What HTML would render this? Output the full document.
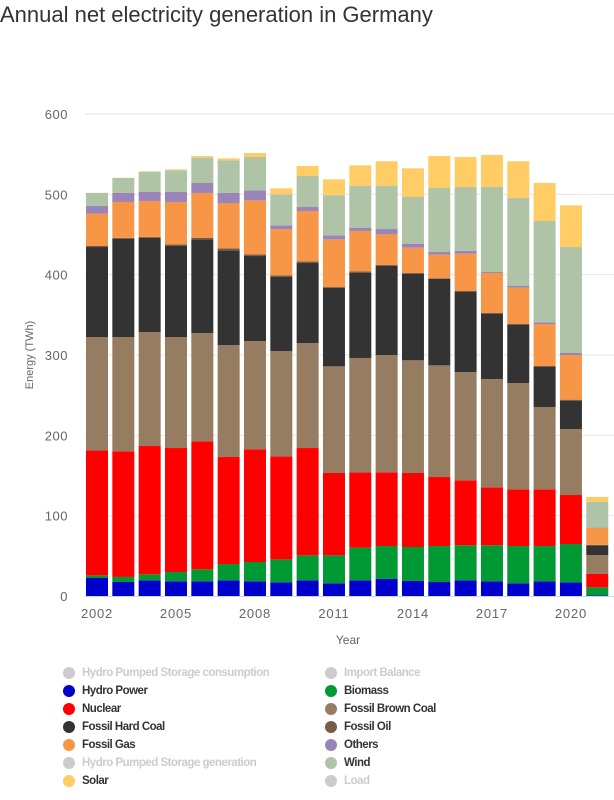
<!DOCTYPE html>
<html><head><meta charset="utf-8">
<style>
body{margin:0;background:#fff;font-family:"Liberation Sans",sans-serif;}
#wrap{position:relative;width:614px;height:800px;overflow:hidden;}
.title{position:absolute;left:0;top:2px;font-size:22px;color:#333;}
.leg{position:absolute;font-size:11.5px;font-weight:bold;color:#333;letter-spacing:-0.5px;line-height:14px;}
.leg span.dot{position:absolute;left:-19px;top:1px;width:12px;height:12px;border-radius:50%;}
.off{color:#ccc;}
</style></head><body>
<div id="wrap">
<div class="title">Annual net electricity generation in Germany</div>
<svg id="chart" width="614" height="660" style="position:absolute;left:0;top:0"></svg>
<div id="legend"></div>
</div>
<script>
const years=[2002,2003,2004,2005,2006,2007,2008,2009,2010,2011,2012,2013,2014,2015,2016,2017,2018,2019,2020,2021];
const hydro=[22.4,17.4,19.5,18.3,18.3,19.5,18.3,17,19.5,15.8,19.5,21.2,18.7,17.4,19.5,18.3,15.8,18.3,17,0.8];
const biomass=[3.3,6.3,7.5,11.6,14.9,20.3,24,28.6,31.1,34.8,40.7,41,42.3,44.8,43.6,44.8,46.4,43.9,47.7,10];
const nuclear=[155.6,156.3,159.7,154.3,159.3,133.2,140.3,128.3,133.6,102.5,93.7,91.7,92.1,85.9,80.9,72.2,70.6,70.6,61,16.6];
const brownCoal=[141.1,142.4,141.9,138.2,134.9,139.4,134.8,131.1,130.7,132.8,142.4,146.1,140.3,139,134.8,134.8,132.3,102.5,82.2,23.6];
const hardCoal=[112,122.4,117.4,113.3,116.6,117.9,105.8,92.1,99.6,97.9,105.8,111.2,107.8,107.5,99.6,81.4,72.7,49.8,35.3,12.1];
const oil=[1.3,1,1,2.1,2,2.5,2.1,2.1,2.1,0.8,2,0.8,0.9,0.8,1.3,0.8,0.8,1.2,1.2,0.5];
const gas=[40.3,44.7,44.7,52.7,55.7,56.4,67.2,57.6,62.7,59.4,50.3,38.2,31.5,29.5,46.4,49.8,45.2,52.3,55.6,21];
const others=[9.5,11.2,11.2,12.4,12.4,12.5,12.5,4.6,4.9,5,3.7,6.6,5,3.3,3.4,1.2,2.1,2.1,2.5,0.5];
const wind=[16.2,18.6,24.9,27,31.5,40.6,41.5,38.6,38.6,49.8,52.3,53.6,58.1,79.7,79.6,105.8,109.5,126.1,131.9,32];
const solar=[0.2,0.3,0.8,1.2,2.1,2.5,5,7.5,12.5,19.9,25.7,30.7,35.7,39.8,37.4,39.9,45.7,47.3,51.9,6.2];
const yTicks=[0,100,200,300,400,500,600];
const xTickYears=[2002,2005,2008,2011,2014,2017,2020];

const series=[
 {name:'hydro',vals:hydro,c:'#0000cc'},
 {name:'biomass',vals:biomass,c:'#009933'},
 {name:'nuclear',vals:nuclear,c:'#ff0000'},
 {name:'brown-coal',vals:brownCoal,c:'#967d62'},
 {name:'hard-coal',vals:hardCoal,c:'#333333'},
 {name:'oil',vals:oil,c:'#7a5c44'},
 {name:'gas',vals:gas,c:'#f79646'},
 {name:'others',vals:others,c:'#9a84b8'},
 {name:'wind',vals:wind,c:'#afc4a6'},
 {name:'solar',vals:solar,c:'#ffcc66'}];

const NS='http://www.w3.org/2000/svg';
const svg=document.getElementById('chart');
const y0=596,yScale=482/600;
const yPos=v=>y0-v*yScale;
const xPos=yr=>97+(yr-2002)*26.33;
const bw=22;
function mk(t,a){const e=document.createElementNS(NS,t);for(const k in a)e.setAttribute(k,a[k]);svg.appendChild(e);return e;}
yTicks.forEach(t=>{
 if(t>0){const g=mk('line',{x1:85,x2:614,y1:yPos(t),y2:yPos(t),stroke:'#e6e6e6','stroke-width':1});
 
 }
 const l=mk('text',{x:68,y:yPos(t)+5,'text-anchor':'end','font-size':13,fill:'#666','font-family':'Liberation Sans, sans-serif','letter-spacing':'0.5'});
 l.textContent=t;
 
 
});
years.forEach((yr,i)=>{
 let cum=0;
 series.forEach(s=>{
  const v=s.vals[i];
  const r=mk('rect',{x:xPos(yr)-bw/2,y:yPos(cum+v),width:bw,height:v*yScale,fill:s.c});
  
  
  cum+=v;
 });
});
const ax=mk('line',{x1:85,x2:614,y1:y0+0.5,y2:y0+0.5,stroke:'#ccd6eb','stroke-width':1});


xTickYears.forEach(yr=>{
 const t=mk('text',{x:xPos(yr),y:618,'text-anchor':'middle','font-size':13,fill:'#666','font-family':'Liberation Sans, sans-serif','letter-spacing':'0.8'});
 t.textContent=yr;
 
 
});
const xt=mk('text',{x:348,y:644,'text-anchor':'middle','font-size':12,fill:'#666','font-family':'Liberation Sans, sans-serif'});
xt.textContent='Year';


const yt=mk('text',{x:0,y:0,'text-anchor':'middle','font-size':11,fill:'#666','font-family':'Liberation Sans, sans-serif',transform:'translate(33,355) rotate(-90)'});
yt.textContent='Energy (TWh)';



const legendItems=[
 ['Hydro Pumped Storage consumption','#ccc',true],['Import Balance','#ccc',true],
 ['Hydro Power','#0000cc',false],['Biomass','#009933',false],
 ['Nuclear','#ff0000',false],['Fossil Brown Coal','#967d62',false],
 ['Fossil Hard Coal','#333333',false],['Fossil Oil','#7a5c44',false],
 ['Fossil Gas','#f79646',false],['Others','#9a84b8',false],
 ['Hydro Pumped Storage generation','#ccc',true],['Wind','#afc4a6',false],
 ['Solar','#ffcc66',false],['Load','#ccc',true]];
const lg=document.getElementById('legend');
legendItems.forEach((it,i)=>{
 const d=document.createElement('div');
 d.className='leg'+(it[2]?' off':'');
 d.style.left=(i%2?344:82)+'px';
 d.style.top=(666+Math.floor(i/2)*18)+'px';
 d.innerHTML='<span class="dot" style="background:'+it[1]+'"></span>'+it[0];
 
 
 lg.appendChild(d);
});
</script>
</body></html>
